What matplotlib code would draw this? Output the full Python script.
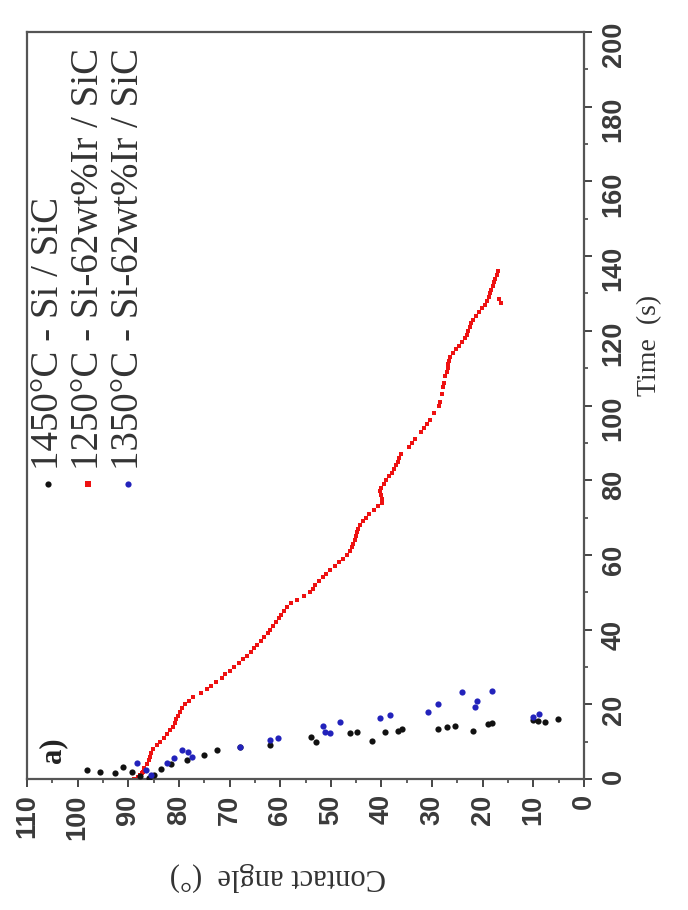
import matplotlib.pyplot as plt
from matplotlib.ticker import MultipleLocator

# 1450C - Si / SiC
t_si = [2.4, 1.9, 1.6, 3.2, 2.0, 0.8, 0.4, 1.2, 2.8, 4.0, 5.2, 6.5, 7.8, 8.5, 9.0,
        11.3, 10.0, 12.3, 12.6, 10.2, 12.6, 12.9, 13.4, 13.4, 14.0, 14.2, 12.9, 14.7,
        14.9, 15.8, 15.5, 15.3, 16.0]
a_si = [98.2, 95.6, 92.6, 91.0, 89.2, 87.6, 86.0, 85.0, 83.5, 81.5, 78.5, 75.0, 72.5,
        68.0, 62.0, 54.0, 53.0, 46.2, 44.8, 41.9, 39.3, 36.7, 36.0, 28.8, 27.1, 25.5,
        21.9, 19.0, 18.2, 10.1, 9.1, 7.7, 5.1]

# 1250C - Si-62wt%Ir / SiC
t_ir1250 = [0.0, 0.5, 1.0, 1.5, 2.0, 3.0, 4.0, 5.0, 6.0, 7.0, 8.0, 9.0, 10.0, 11.0,
            12.0, 13.0, 14.0, 15.0, 16.0, 17.0, 18.0, 19.0, 20.0, 21.0, 22.0, 23.0,
            24.0, 25.0, 26.0, 27.0, 28.0, 29.0, 30.0, 31.0, 32.0, 33.0, 34.0, 35.0,
            36.0, 37.0, 38.0, 39.0, 40.0, 41.0, 42.0, 43.0, 44.0, 45.0, 46.0, 47.0,
            48.0, 49.0, 50.0, 51.0, 52.0, 53.0, 54.0, 55.0, 56.0, 57.0, 58.0, 59.0,
            60.0, 61.0, 62.0, 63.0, 64.0, 65.0, 66.0, 67.0, 68.0, 69.0, 70.0, 71.0,
            72.0, 73.0, 74.0, 75.0, 76.0, 77.0, 78.0, 79.0, 80.0, 81.0, 82.0, 83.0,
            84.0, 85.0, 86.0, 87.0, 89.0, 90.0, 91.0, 93.0, 94.0, 95.0, 96.0, 98.0,
            100.0, 101.0, 103.0, 105.0, 106.0, 108.0, 109.0, 110.0, 111.0, 112.0,
            113.0, 114.0, 115.0, 116.0, 117.0, 118.0, 119.0, 120.0, 121.0, 122.0,
            123.0, 124.0, 125.0, 126.0, 127.0, 128.0, 129.0, 130.0, 131.0, 132.0,
            133.0, 134.0, 135.0, 136.0, 127.5, 128.5]
a_ir1250 = [88.8, 88.0, 87.6, 87.2, 87.0, 86.8, 86.4, 86.0, 85.8, 85.5, 85.1, 84.4,
            83.8, 83.0, 82.4, 81.7, 81.2, 80.8, 80.5, 80.1, 79.7, 79.3, 78.8, 78.0,
            77.2, 75.6, 74.5, 73.6, 72.6, 71.5, 70.8, 70.0, 69.2, 68.2, 67.4, 66.5,
            65.8, 65.1, 64.5, 63.8, 63.1, 62.5, 62.0, 61.4, 60.8, 60.2, 59.8, 59.3,
            58.6, 57.8, 56.6, 55.3, 54.2, 53.6, 53.1, 52.4, 51.6, 51.0, 50.2, 49.1,
            48.3, 47.6, 46.9, 46.3, 45.9, 45.6, 45.3, 45.1, 44.9, 44.6, 44.2, 43.6,
            43.1, 42.4, 41.4, 40.6, 39.9, 39.8, 40.1, 40.3, 40.0, 39.5, 39.2, 38.6,
            38.0, 37.6, 37.1, 36.8, 36.6, 36.2, 34.6, 34.0, 33.4, 32.2, 31.6, 31.0,
            30.5, 29.6, 28.6, 28.4, 28.0, 27.8, 27.6, 27.4, 27.1, 26.9, 26.8, 26.7,
            26.4, 25.8, 25.2, 24.6, 24.0, 23.5, 23.2, 22.9, 22.6, 22.3, 21.9, 21.4,
            20.8, 20.2, 19.6, 19.2, 18.8, 18.5, 18.3, 18.0, 17.8, 17.5, 17.2, 17.0,
            16.4, 16.8]

# 1350C - Si-62wt%Ir / SiC
t_ir1350 = [4.3, 2.5, 1.0, 4.3, 5.5, 7.8, 7.2, 6.0, 8.6, 10.4, 11.0, 14.2, 12.6, 12.3,
            15.2, 16.3, 17.1, 18.0, 20.0, 19.3, 21.0, 23.3, 23.6, 16.6, 17.4]
a_ir1350 = [88.3, 86.5, 85.5, 82.4, 81.0, 79.4, 78.2, 77.5, 68.0, 62.0, 60.5, 51.5,
            51.2, 50.2, 48.2, 40.3, 38.3, 30.8, 28.8, 21.5, 21.1, 24.0, 18.2, 10.1, 8.8]

labels = ['1450\u00b0C - Si / SiC',
          '1250\u00b0C - Si-62wt%Ir / SiC',
          '1350\u00b0C - Si-62wt%Ir / SiC']
colors = ['#111111', '#ee1111', '#2222bb']

serif = ['Liberation Serif', 'DejaVu Serif']
sans = ['Liberation Sans', 'DejaVu Sans']

fig = plt.figure(figsize=(6.88, 9.10), dpi=100)
ax = fig.add_axes([27 / 688, 1 - 779 / 910, 557 / 688, 747 / 910])

# plot is turned on its side: angle runs along x (reversed), time along y
ax.scatter(a_si, t_si, s=20, c=colors[0], marker='o', linewidths=0, zorder=3)
ax.scatter(a_ir1250, t_ir1250, s=11, c=colors[1], marker='s', linewidths=0, zorder=2)
ax.scatter(a_ir1350, t_ir1350, s=20, c=colors[2], marker='o', linewidths=0, zorder=3)

ax.set_xlim(110, 0)
ax.set_ylim(0, 200)
ax.yaxis.tick_right()
ax.xaxis.set_major_locator(MultipleLocator(10))
ax.xaxis.set_minor_locator(MultipleLocator(5))
ax.yaxis.set_major_locator(MultipleLocator(20))
ax.yaxis.set_minor_locator(MultipleLocator(10))
ax.tick_params(which='major', direction='out', length=6, width=1.4, color='#444444')
ax.tick_params(which='minor', direction='out', length=3, width=1.2, color='#444444')
ax.tick_params(axis='x', labelrotation=90, labelsize=19.5, pad=5)
ax.tick_params(axis='y', labelrotation=90, labelsize=19.5, pad=6)
for lab in ax.get_xticklabels() + ax.get_yticklabels():
    lab.set_family(sans)
    lab.set_fontweight('bold')
    lab.set_color('#3a3a3a')
for sp in ax.spines.values():
    sp.set_linewidth(1.6)
    sp.set_color('#555555')

ax.text(0.45, -0.131, 'Contact angle  (\u00b0)', transform=ax.transAxes, rotation=180,
        ha='center', va='center', fontsize=22, family=serif, color='#333333')
ax.text(1.118, 0.58, 'Time  (s)', transform=ax.transAxes, rotation=90,
        ha='center', va='center', fontsize=20, family=serif, color='#333333')
ax.text(0.047, 0.039, 'a)', transform=ax.transAxes, rotation=90,
        ha='center', va='center', fontsize=22, fontweight='bold', family=serif,
        color='#222222')

# hand-placed legend, text reading upwards
for i, (lab, col) in enumerate(zip(labels, colors)):
    xa = (48 + 40 * i - 27) / 557
    ax.scatter([xa], [0.395], s=20, c=col, marker='o' if i != 1 else 's',
               linewidths=0, transform=ax.transAxes, clip_on=False)
    ax.text(xa, 0.413, lab, transform=ax.transAxes, rotation=90,
            rotation_mode='anchor', ha='left', va='center', fontsize=28,
            family=serif, color='#333333')

fig.savefig('out.png', dpi=100)
